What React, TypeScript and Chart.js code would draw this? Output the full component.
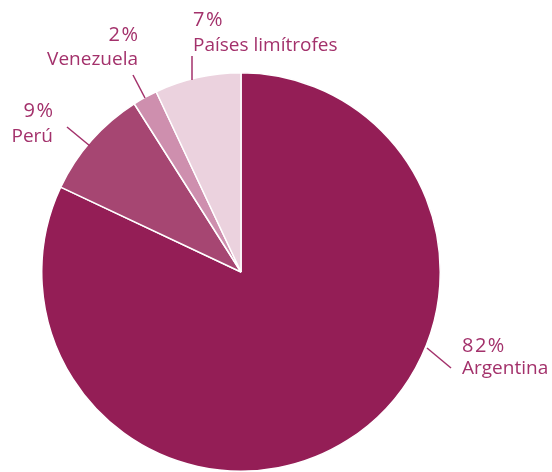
import React, { useEffect, useRef } from "react";
import { Chart, registerables } from "chart.js";

Chart.register(...registerables);

const categories = ["Argentina", "Perú", "Venezuela", "Países limítrofes"];
const values = [82, 9, 2, 7];
const percentLabels = ["82%", "9%", "2%", "7%"];
const colors = ["#941E56", "#A64672", "#CE8FAE", "#EBD2DE"];

const TEXT_COLOR = "#A3316B";
const PCT_FONT = "20px 'Open Sans'";
const NAME_FONT = "19px 'Open Sans'";

// label layout: text x, baselines of the two lines, alignment, connector line
const labelLayout = [
  { x: 462, y1: 352, y2: 374, align: "left", line: [427, 348, 451, 368] },
  { x: 53, y1: 117, y2: 142, align: "right", line: [67, 127, 90, 146] },
  { x: 138, y1: 41, y2: 65, align: "right", line: [133, 75, 145, 98] },
  { x: 193, y1: 26, y2: 51, align: "left", line: [192, 56, 192, 80] },
];

const labelPlugin = {
  id: "pieLabels",
  afterDraw(chart: any) {
    const ctx = chart.ctx;
    ctx.save();
    ctx.fillStyle = TEXT_COLOR;
    ctx.strokeStyle = TEXT_COLOR;
    ctx.lineWidth = 1.5;
    ctx.textBaseline = "alphabetic";
    categories.forEach((c, i) => {
      const l = labelLayout[i];
      ctx.textAlign = l.align;
      ctx.font = PCT_FONT;
      ctx.letterSpacing = "1.5px";
      const px = l.align === "right" ? l.x + 1.5 : l.x;
      ctx.fillText(percentLabels[i], px, l.y1);
      ctx.letterSpacing = "0px";
      ctx.font = NAME_FONT;
      ctx.fillText(c, l.x, l.y2);
      ctx.beginPath();
      ctx.moveTo(l.line[0], l.line[1]);
      ctx.lineTo(l.line[2], l.line[3]);
      ctx.stroke();
    });
    ctx.restore();
  },
};

export default function App() {
  const ref = useRef<HTMLCanvasElement>(null);
  useEffect(() => {
    const chart = new Chart(ref.current!, {
      type: "pie",
      data: {
        labels: categories,
        datasets: [
          {
            data: values,
            backgroundColor: colors,
            borderColor: "#ffffff",
            borderWidth: 1.5,
          },
        ],
      },
      options: {
        animation: false,
        responsive: false,
        layout: { padding: { left: 41, right: 111, top: 72, bottom: 0 } },
        plugins: { legend: { display: false }, tooltip: { enabled: false } },
      },
      plugins: [labelPlugin],
    });
    return () => chart.destroy();
  }, []);
  return (
    <div style={{ position: "fixed", left: 0, top: 0, width: 552, height: 472, background: "#fff" }}>
      <canvas ref={ref} width={552} height={472} />
    </div>
  );
}
